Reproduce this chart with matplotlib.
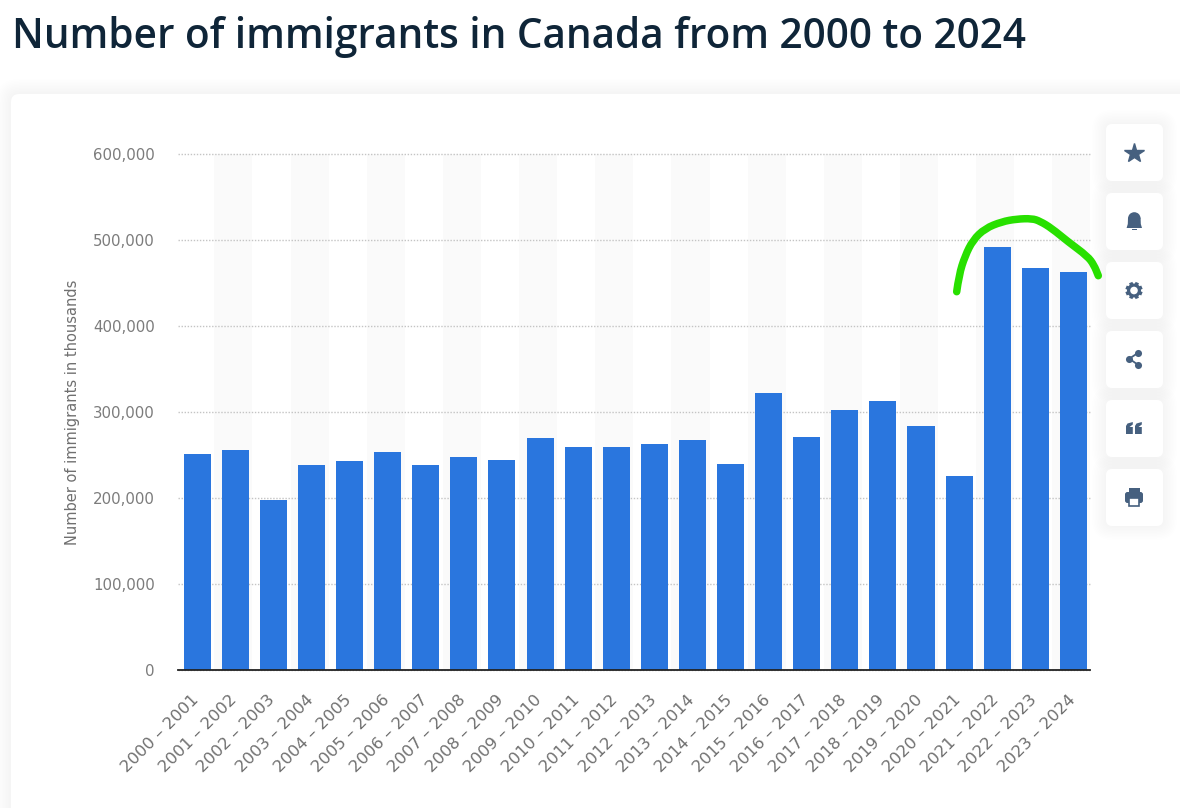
import numpy as np
import matplotlib
matplotlib.use("Agg")
import matplotlib.pyplot as plt
from matplotlib.patches import FancyBboxPatch, Rectangle, Circle, Polygon, Wedge
from matplotlib.path import Path
from matplotlib.patches import PathPatch
from matplotlib.ticker import FuncFormatter
from matplotlib.transforms import ScaledTranslation

plt.rcParams['font.family'] = ['Open Sans', 'DejaVu Sans']

# data
periods = ["2000 – 2001", "2001 – 2002", "2002 – 2003", "2003 – 2004", "2004 – 2005",
           "2005 – 2006", "2006 – 2007", "2007 – 2008", "2008 – 2009", "2009 – 2010",
           "2010 – 2011", "2011 – 2012", "2012 – 2013", "2013 – 2014", "2014 – 2015",
           "2015 – 2016", "2016 – 2017", "2017 – 2018", "2018 – 2019", "2019 – 2020",
           "2020 – 2021", "2021 – 2022", "2022 – 2023", "2023 – 2024"]
immigrants = [251000, 255000, 198000, 238000, 243000, 253500, 238000, 248000,
              244500, 269000, 259000, 259000, 262500, 267500, 239500, 321500,
              271000, 302500, 313000, 283000, 225500, 491500, 467500, 462500]
y_ticks = [0, 100000, 200000, 300000, 400000, 500000, 600000]

# hand drawn green mark, in picture pixels
mark_x = [956.7, 959, 965, 973, 985, 1001.7, 1016.7, 1032, 1040, 1051.7, 1068, 1087.5, 1094, 1098.3]
mark_y = [291.7, 275, 256, 240, 228.5, 221.7, 219, 218.5, 221.2, 228.3, 241.7, 256.2, 265, 275.7]

W, H = 1180, 808
fig = plt.figure(figsize=(W / 100, H / 100), dpi=100, facecolor='white')

# page layer in pixel coordinates
bg = fig.add_axes([0, 0, 1, 1], zorder=0)
bg.set_xlim(0, W)
bg.set_ylim(H, 0)
bg.axis('off')


def soft_shadow(a, x0, y0, w, h, r, spread, alpha=0.004):
    for g in np.arange(spread, 0, -1.5):
        a.add_patch(FancyBboxPatch((x0 - g, y0 - g), w + 2 * g, h + 2 * g,
                                   boxstyle=f"round,pad=0,rounding_size={r + g}",
                                   fc='#2a4a7a', alpha=alpha, ec='none'))


soft_shadow(bg, 11, 94, 1300, 900, 8, 15)
bg.add_patch(FancyBboxPatch((11, 94), 1300, 900, boxstyle="round,pad=0,rounding_size=8",
                            fc='white', ec='none'))
fig.text(12 / W, 1 - 37 / H, "Number of immigrants in Canada from 2000 to 2024",
         fontsize=29.2, fontweight=600, color='#0f2538', va='center', ha='left')

# chart
ax = fig.add_axes([178 / W, 1 - 670 / H, (1090 - 178) / W, (670 - 153.5) / H],
                  zorder=1, facecolor='none')
x = np.arange(len(periods))
for i in x[1::2]:
    ax.axvspan(i - 0.55, i + 0.45, color='#fafafa', lw=0, zorder=0)
ax.bar(x, immigrants, width=0.71, color='#2a76de', zorder=3)
ax.set_xlim(-0.505, 23.437)
ax.set_ylim(0, 600000)
ax.yaxis.set_major_formatter(FuncFormatter(lambda v, p: f"{int(v):,}"))
ax.set_yticks(y_ticks)
ax.set_xticks(x)
ax.set_xticklabels(periods, rotation=45, ha='right', va='top', rotation_mode='anchor',
                   fontsize=11.8, color='#6f6f6f', family='DejaVu Sans')
ax.tick_params(axis='x', length=0, pad=16)
ax.tick_params(axis='y', length=0, pad=16.6, labelsize=10.8, labelcolor='#7c7c7c')
# tick_params resets label transforms, so the shift has to come after it
shift = ScaledTranslation(-6 / 100, 0, fig.dpi_scale_trans)
for lab in ax.get_xticklabels():
    lab.set_transform(lab.get_transform() + shift)
for lab in ax.get_yticklabels():
    lab.set_family('DejaVu Sans')
ax.grid(axis='y', color='#c4c4c4', linestyle=(0, (1, 1.2)), linewidth=1, zorder=1, clip_on=False)
ax.set_axisbelow(True)
for s in ['top', 'right', 'left']:
    ax.spines[s].set_visible(False)
ax.spines['bottom'].set_color('#222222')
ax.spines['bottom'].set_linewidth(1.3)
ax.spines['bottom'].set_zorder(5)
fig.text(73 / W, 1 - 412 / H, "Number of immigrants in thousands", rotation=90,
         fontsize=10.5, color='#6f6f6f', va='center', ha='center', family='DejaVu Sans')

# toolbar and mark on top
top = fig.add_axes([0, 0, 1, 1], zorder=2, facecolor='none')
top.set_xlim(0, W)
top.set_ylim(H, 0)
top.axis('off')
icon = '#46607f'
for cy in [152.5, 221.5, 290.5, 359.5, 428.5, 497.5]:
    soft_shadow(top, 1106, cy - 28.5, 57, 57, 6, 14, alpha=0.005)
for cy in [152.5, 221.5, 290.5, 359.5, 428.5, 497.5]:
    top.add_patch(FancyBboxPatch((1106, cy - 28.5), 57, 57, boxstyle="round,pad=0,rounding_size=6",
                                 fc='white', ec='none'))
# star
top.plot([1134], [152.5], marker='*', ms=14.5, color=icon, mec=icon)
# bell
top.add_patch(Wedge((1134.3, 218.5), 6.3, 180, 360, fc=icon, ec='none'))
top.add_patch(Polygon([[1128, 218], [1140.6, 218], [1140.8, 224], [1142, 228], [1126.6, 228], [1127.8, 224]],
                      fc=icon, ec='none'))
top.add_patch(Rectangle((1131.5, 229), 5.5, 1.3, fc=icon, ec='none'))
# gear
for ang in np.arange(0, 360, 45) + 22.5:
    c, s_ = np.cos(np.radians(ang)), np.sin(np.radians(ang))
    top.plot([1134 + 6 * c, 1134 + 8.6 * c], [290.5 + 6 * s_, 290.5 + 8.6 * s_], color=icon,
             lw=2.6, solid_capstyle='butt')
top.add_patch(Circle((1134, 290.5), 7, fc=icon, ec='none'))
top.add_patch(Circle((1134, 290.5), 3.8, fc='white', ec='none'))
# share
share_x = [1138.3, 1129.3, 1138.3]
share_y = [352.7, 358.7, 365]
top.plot(share_x, share_y, color=icon, lw=1.3)
top.scatter(share_x, share_y, s=26, color=icon, lw=0)
# quotes
for qx in [1126, 1135]:
    top.add_patch(Polygon([[qx, 426], [qx + 1.5, 423.5], [qx + 6.8, 422], [qx + 6.8, 424.5], [qx + 3.5, 427],
                           [qx + 6.8, 427], [qx + 6.8, 434], [qx, 434]], fc=icon, ec='none'))
# printer
top.add_patch(FancyBboxPatch((1125, 492), 18, 11, boxstyle="round,pad=0,rounding_size=2.5", fc=icon, ec='none'))
top.add_patch(Rectangle((1128.5, 488), 11, 5, fc=icon, ec='none'))
top.add_patch(Rectangle((1129, 498), 10, 8, fc='white', ec=icon, lw=1.2))

# smooth the stroke through the read points (quadratic segments via midpoints)
pts = np.column_stack([mark_x, mark_y])
verts = [pts[0]]
codes = [Path.MOVETO]
for a, b in zip(pts[1:-1], pts[2:]):
    verts += [a, (a + b) / 2]
    codes += [Path.CURVE3, Path.CURVE3]
verts.append(pts[-1])
codes.append(Path.LINETO)
top.add_patch(PathPatch(Path(verts, codes), fc='none', ec='#28e000', lw=5.4, capstyle='round', joinstyle='round'))

fig.savefig('out.png', dpi=100, facecolor=fig.get_facecolor())
